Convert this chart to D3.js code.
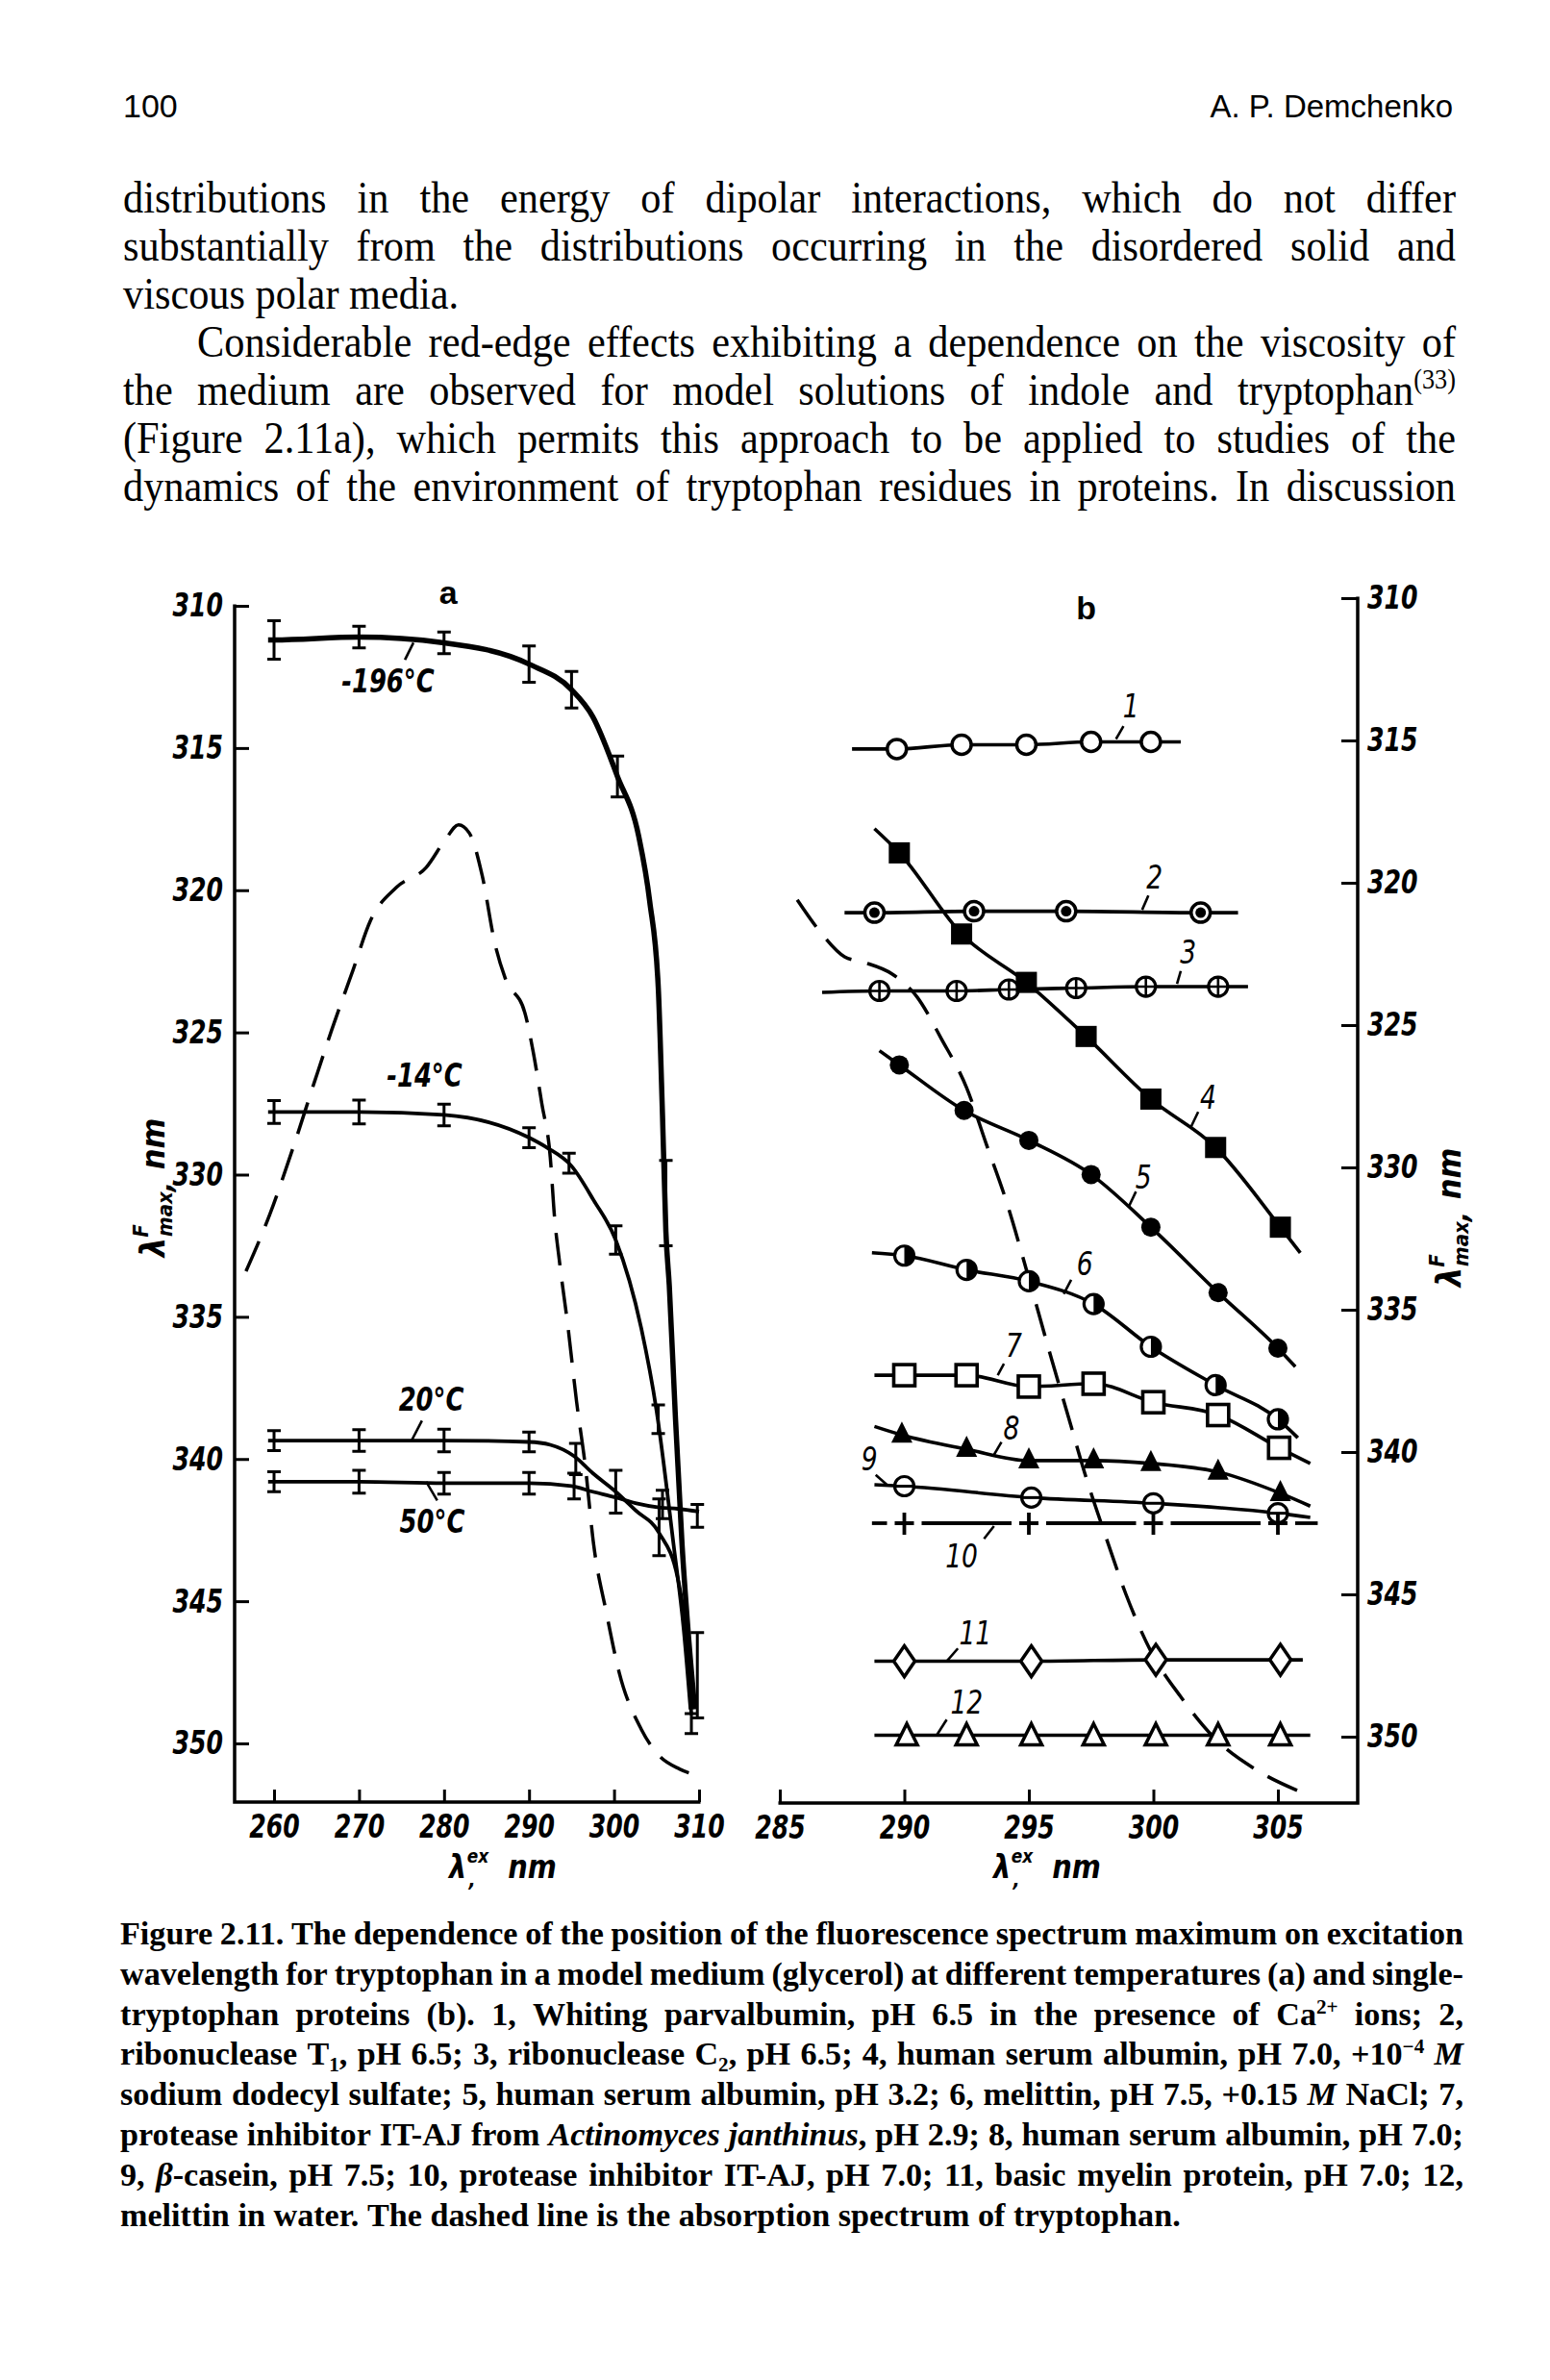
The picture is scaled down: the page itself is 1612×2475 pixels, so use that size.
<!DOCTYPE html>
<html><head><meta charset="utf-8">
<script src="https://cdn.jsdelivr.net/npm/d3@7"></script>
<style>html,body{margin:0;padding:0;background:#fff}svg{display:block}</style>
</head><body>
<svg id="page" width="1612" height="2475" xmlns="http://www.w3.org/2000/svg"></svg>
<script>
// ================= DATA =================
const headerPage = "100";
const headerAuthor = "A. P. Demchenko";
const bodyLines = [
 "distributions in the energy of dipolar interactions, which do not differ",
 "substantially from the distributions occurring in the disordered solid and",
 "viscous polar media.",
 "Considerable red-edge effects exhibiting a dependence on the viscosity of",
 "the medium are observed for model solutions of indole and tryptophan^{(33)}",
 "(Figure 2.11a), which permits this approach to be applied to studies of the",
 "dynamics of the environment of tryptophan residues in proteins. In discussion"
];
const captionLines = [
 "Figure 2.11. The dependence of the position of the fluorescence spectrum maximum on excitation",
 "wavelength for tryptophan in a model medium (glycerol) at different temperatures (a) and single-",
 "tryptophan proteins (b). 1, Whiting parvalbumin, pH 6.5 in the presence of Ca^{2+} ions; 2,",
 "ribonuclease T_{1}, pH 6.5; 3, ribonuclease C_{2}, pH 6.5; 4, human serum albumin, pH 7.0, +10^{−4} *M*",
 "sodium dodecyl sulfate; 5, human serum albumin, pH 3.2; 6, melittin, pH 7.5, +0.15 *M* NaCl; 7,",
 "protease inhibitor IT-AJ from *Actinomyces* *janthinus*, pH 2.9; 8, human serum albumin, pH 7.0;",
 "9, *β*-casein, pH 7.5; 10, protease inhibitor IT-AJ, pH 7.0; 11, basic myelin protein, pH 7.0; 12,",
 "melittin in water. The dashed line is the absorption spectrum of tryptophan."
];

// ---- panel a (tryptophan in glycerol) ----
const aTicksX = [260, 270, 280, 290, 300, 310];
const aTicksY = [310, 315, 320, 325, 330, 335, 340, 345, 350];
const aM196 = [[259.3,311.2],[260,311.2],[270,311.1],[280,311.3],[290,312.05],[295,312.95],[297.5,313.9],[300.4,316.0],[302.9,318.1],[304.2,320.4],[305.2,323.4],[305.7,327.9],[306.1,332.0],[306.5,333.9],[307.2,338.4],[308.0,343.0],[308.7,346.0],[309.5,348.8]];
const aM14 = [[259.3,327.8],[260,327.8],[270,327.8],[280,327.9],[290,328.7],[292.1,329.05],[295,329.7],[297.6,330.9],[300.2,332.3],[303.2,335.4],[305,338.3],[307,343.0],[308.2,346.0],[309.0,348.8]];
const aP20 = [[259.3,339.35],[260,339.35],[270,339.35],[280,339.35],[290,339.4],[292.5,339.5],[295.3,339.9],[297.5,340.5],[300.2,341.15],[302.5,341.8],[305.3,342.6],[307.5,344.2],[308.5,346.3],[309.1,349.0]];
const aP50 = [[259.3,340.8],[260,340.8],[270,340.8],[280,340.85],[290,340.85],[295,340.95],[297.5,341.15],[300.2,341.35],[302.5,341.55],[305.3,341.7],[307.5,341.75],[310,341.85]];
// error bars: [x, y, half-length]
const aErrM196 = [[260,311.2,0.68],[270,311.1,0.38],[280,311.3,0.38],[290,312.05,0.64],[295,312.95,0.64],[300.4,316.0,0.72],[306.1,331.0,1.5],[309.8,347.6,1.5]];
const aErrM14 = [[260,327.8,0.4],[270,327.8,0.42],[280,327.9,0.38],[290,328.7,0.35],[294.7,329.6,0.35],[300.2,332.3,0.5],[305.2,338.6,0.5]];
const aErrP20 = [[260,339.35,0.35],[270,339.35,0.38],[280,339.35,0.4],[290,339.4,0.35],[295.5,340.0,0.55],[300.2,341.15,0.75],[305.3,342.4,1.0],[309.1,349.3,0.35]];
const aErrP50 = [[260,340.8,0.35],[270,340.8,0.4],[280,340.85,0.38],[290,340.85,0.38],[295.3,340.95,0.45],[305.7,341.6,0.5],[309.8,342.0,0.4]];
const aAbsorption = [[256.7,333.4],[259.5,331.4],[262.3,329.0],[264.8,326.7],[266.8,324.9],[269.3,322.8],[271.3,321.1],[274.4,319.9],[277.9,319.2],[280.2,318.2],[281.7,317.7],[283.0,318.0],[284.5,319.5],[286.0,321.9],[287.2,323.1],[289.5,324.3],[290.5,325.7],[291.5,327.5],[292.5,329.4],[293.0,331.5],[293.6,333.1],[294.6,335.4],[295.6,338.0],[296.6,340.2],[297.6,343.0],[299.1,345.4],[300.6,347.5],[303.2,349.5],[305.2,350.4],[307.7,350.9],[309.5,351.1]];
const aLabels = [
 {t:"-196°C", x:273.4, y:313.05, lead:[[275.4,311.9],[276.4,311.3]]},
 {t:"-14°C",  x:277.7, y:326.9, lead:null},
 {t:"20°C",   x:278.5, y:338.3, lead:[[276.2,339.34],[277.4,338.65]]},
 {t:"50°C",   x:278.6, y:342.6, lead:[[277.9,340.8],[279.2,341.46]]}
];

// ---- panel b (single-tryptophan proteins) ----
const bTicksX = [285, 290, 295, 300, 305];
const bTicksY = [310, 315, 320, 325, 330, 335, 340, 345, 350];
const b1  = [[287.9,315.3],[289.7,315.3],[292.3,315.15],[294.9,315.15],[297.5,315.05],[299.9,315.05],[301.1,315.05]];
const b2  = [[287.6,321.05],[288.8,321.05],[292.8,321.0],[296.5,321.0],[301.9,321.05],[303.4,321.05]];
const b3  = [[286.7,323.85],[289.0,323.8],[292.1,323.8],[294.2,323.75],[296.9,323.7],[299.7,323.65],[302.6,323.65],[303.8,323.65]];
const b4  = [[288.8,318.1],[289.8,318.95],[292.3,321.8],[294.9,323.5],[297.3,325.4],[299.9,327.6],[302.5,329.3],[305.1,332.1],[305.9,333.0]];
const b5  = [[289.0,325.9],[289.8,326.4],[292.4,328.0],[295.0,329.05],[297.5,330.25],[299.9,332.1],[302.6,334.4],[305.0,336.35],[305.7,337.0]];
const b6  = [[288.7,333.0],[290.0,333.1],[292.5,333.6],[295.0,334.0],[297.6,334.8],[299.9,336.3],[302.5,337.65],[305.0,338.85],[305.8,339.5]];
const b7  = [[288.8,337.3],[290.0,337.3],[292.5,337.3],[295.0,337.7],[297.6,337.6],[300.0,338.25],[302.6,338.7],[305.05,339.85],[306.3,340.4]];
const b8  = [[288.8,339.1],[289.9,339.4],[292.5,339.9],[295.0,340.3],[297.6,340.3],[299.9,340.4],[302.6,340.7],[305.1,341.45],[306.3,341.9]];
const b9  = [[288.8,341.15],[290.0,341.2],[295.1,341.6],[300.0,341.8],[305.0,342.15],[306.3,342.3]];
const b10 = [[288.7,342.5],[290,342.5],[295,342.5],[300,342.5],[305,342.5],[306.6,342.5]];
const b11 = [[288.8,347.35],[290,347.35],[295.1,347.35],[300.1,347.3],[305.1,347.3],[306.0,347.3]];
const b12 = [[288.8,349.95],[290.1,349.95],[292.5,349.95],[295.1,349.95],[297.6,349.95],[300.1,349.95],[302.6,349.95],[305.1,349.95],[306.3,349.95]];
const bMarkers = ["open","dot","cross","sqfill","fill","half","sqopen","trifill","bar","plus","diamond","triopen"];
const bAbsorption = [[285.7,320.6],[286.6,321.7],[287.6,322.6],[288.4,322.8],[289.5,323.2],[290.5,324.0],[291.5,325.5],[292.5,327.2],[293.3,329.2],[294.1,331.2],[295.0,333.9],[295.9,336.7],[296.6,338.8],[297.3,340.9],[298.1,343.0],[298.9,345.0],[299.9,347.0],[301.1,348.6],[302.4,350.0],[304.2,351.2],[305.8,351.9]];
const bLabels = [
 {t:"1",  x:299.1,  y:314.2,  lead:[[298.5,314.95],[298.8,314.5]]},
 {t:"2",  x:300.05, y:320.2,  lead:[[299.55,320.95],[299.8,320.45]]},
 {t:"3",  x:301.4,  y:322.85, lead:[[300.95,323.55],[301.1,323.1]]},
 {t:"4",  x:302.2,  y:327.95, lead:[[301.5,328.6],[301.8,328.05]]},
 {t:"5",  x:299.6,  y:330.75, lead:[[299.0,331.4],[299.3,330.85]]},
 {t:"6",  x:297.25, y:333.8,  lead:[[296.4,334.45],[296.7,333.95]]},
 {t:"7",  x:294.4,  y:336.65, lead:[[293.75,337.3],[294.0,336.9]]},
 {t:"8",  x:294.3,  y:339.55, lead:[[293.6,340.1],[293.9,339.65]]},
 {t:"9",  x:288.6,  y:340.65, lead:[[288.85,340.8],[289.3,341.15]]},
 {t:"10", x:292.3,  y:344.05, lead:[[293.2,343.05],[293.6,342.6]]},
 {t:"11", x:292.85, y:346.75, lead:[[291.7,347.35],[292.15,346.9]]},
 {t:"12", x:292.5,  y:349.2,  lead:[[291.3,349.95],[291.7,349.4]]}
];

// ================= DRAWING =================
const svg = d3.select('#page');
const LBL = "'DejaVu Sans', 'Liberation Sans', sans-serif";
const SERIF = "'Liberation Serif', 'Times New Roman', serif";
const SANS = "'Liberation Sans', Arial, sans-serif";

// ---- header ----
svg.append('text').attr('x',128).attr('y',122).attr('font-family',SANS).attr('font-size',34).text(headerPage);
svg.append('text').attr('x',1511).attr('y',122).attr('text-anchor','end').attr('font-family',SANS).attr('font-size',33).text(headerAuthor);

// ---- justified text helpers ----
function parseSegs(word){
  const re = /\^\{([^}]*)\}|_\{([^}]*)\}|\*([^*]*)\*|([^*^_]+)/g;
  const out = []; let m;
  while ((m = re.exec(word))){
    if (m[1]!==undefined) out.push({t:m[1],k:'sup'});
    else if (m[2]!==undefined) out.push({t:m[2],k:'sub'});
    else if (m[3]!==undefined) out.push({t:m[3],k:'it'});
    else out.push({t:m[4],k:'n'});
  }
  return out;
}
function addWord(g, word, fs){
  const t = g.append('text').attr('x',0).attr('y',0);
  let cur = 0;
  for (const s of parseSegs(word)){
    const sp = t.append('tspan').text(s.t);
    let off = 0, size = fs;
    if (s.k==='sup'){ off = -0.36*fs; size = 0.62*fs; }
    else if (s.k==='sub'){ off = 0.2*fs; size = 0.62*fs; }
    else if (s.k==='it'){ sp.attr('font-style','italic'); }
    sp.attr('font-size', size);
    if (off !== cur) sp.attr('dy', off - cur);
    cur = off;
  }
  return t;
}
function textLine(str, x0, x1, y, fs, attrs, justify, baseCx){
  const g = svg.append('g');
  Object.entries(attrs).forEach(([k,v])=>g.attr(k,v));
  const words = str.split(' ');
  const nodes = words.map(w=>addWord(g,w,fs));
  const widths = nodes.map(n=>n.node().getComputedTextLength());
  const sum = d3.sum(widths);
  const n = Math.max(words.length-1,1);
  const W = x1 - x0;
  let cx = baseCx, gap = 0.25*fs;
  const minGap = 0.16*fs;
  if (justify){
    gap = (W/cx - sum)/n;
    if (gap < minGap){ cx = W/(sum + n*minGap); gap = minGap; }
  }
  g.attr('transform', `translate(${x0},${y}) scale(${cx},1)`);
  let x = 0;
  nodes.forEach((nd,i)=>{ nd.attr('x', x); x += widths[i] + gap; });
}
// body text
bodyLines.forEach((ln,i)=>{
  const x0 = (i===3) ? 205 : 128;
  const justify = (i!==2);
  textLine(ln, x0, 1514, 221 + 50*i, 46, {'font-family':SERIF}, justify, 0.92);
});
// caption
captionLines.forEach((ln,i)=>{
  const justify = (i!==captionLines.length-1);
  textLine(ln, 125, 1522, 2022 + 41.8*i, 33.5, {'font-family':SERIF,'font-weight':'bold'}, justify, 1.02);
});

// ---- scales ----
const xA = d3.scaleLinear().domain([260,310]).range([285,727]);
const yA = d3.scaleLinear().domain([310,350]).range([630,1813]);
const xB = d3.scaleLinear().domain([285,305]).range([811,1329]);
const yB = d3.scaleLinear().domain([310,350]).range([622,1806]);
const A_LEFT = 244, A_BOTTOM = 1874, B_RIGHT = 1412, B_BOTTOM = 1875;

function styleAxis(g, s){
  g.select('.domain').remove();
  g.selectAll('.tick line').attr('stroke','#000').attr('stroke-width',3);
  g.selectAll('.tick text')
    .attr('font-family',LBL).attr('font-size',34).attr('font-style','italic').attr('font-weight','bold').attr('fill','#000')
    .each(function(){ const t=d3.select(this); const x=+t.attr('x')||0; t.attr('x', x/s).attr('transform',`scale(${s},1)`); });
}
const fmt = d3.format('d');
// panel a axes
svg.append('g').attr('transform',`translate(${A_LEFT},0)`)
  .call(d3.axisLeft(yA).tickValues(aTicksY).tickFormat(fmt).tickSize(-15).tickPadding(12))
  .call(g=>styleAxis(g,0.74));
svg.append('g').attr('transform',`translate(0,${A_BOTTOM})`)
  .call(d3.axisBottom(xA).tickValues(aTicksX).tickFormat(fmt).tickSize(-13).tickPadding(13))
  .call(g=>styleAxis(g,0.74));
svg.append('path').attr('d',`M${A_LEFT},${yA(310)-1.5}V${A_BOTTOM}H${xA(310)+1.5}`)
  .attr('fill','none').attr('stroke','#000').attr('stroke-width',3.5);
// panel b axes
svg.append('g').attr('transform',`translate(${B_RIGHT},0)`)
  .call(d3.axisRight(yB).tickValues(bTicksY).tickFormat(fmt).tickSize(-17).tickPadding(10))
  .call(g=>styleAxis(g,0.74));
svg.append('g').attr('transform',`translate(0,${B_BOTTOM})`)
  .call(d3.axisBottom(xB).tickValues(bTicksX).tickFormat(fmt).tickSize(-14).tickPadding(13))
  .call(g=>styleAxis(g,0.74));
svg.append('path').attr('d',`M${xB(285)-1.5},${B_BOTTOM}H${B_RIGHT}V${yB(310)-1.5}`)
  .attr('fill','none').attr('stroke','#000').attr('stroke-width',3.5);

// ---- panel a marks ----
const lineA = d3.line().x(d=>xA(d[0])).y(d=>yA(d[1])).curve(d3.curveMonotoneX);
const gA = svg.append('g');
gA.append('path').attr('d',lineA(aAbsorption)).attr('fill','none').attr('stroke','#000')
  .attr('stroke-width',3.5).attr('stroke-dasharray','34,17');
[[aM14,3.8],[aP20,3.8],[aP50,3.8],[aM196,5.5]].forEach(([d,w])=>{
  gA.append('path').attr('d',lineA(d)).attr('fill','none').attr('stroke','#000').attr('stroke-width',w).attr('stroke-linejoin','round');
});
[aErrM196, aErrM14, aErrP20, aErrP50].forEach(arr=>{
  arr.forEach(([x,y,e])=>{
    const px = xA(x), y0 = yA(y-e), y1 = yA(y+e);
    gA.append('path').attr('d',`M${px},${y0}V${y1}M${px-7},${y0}H${px+7}M${px-7},${y1}H${px+7}`)
      .attr('fill','none').attr('stroke','#000').attr('stroke-width',3);
  });
});

// ---- panel b marks ----
const lineB = d3.line().x(d=>xB(d[0])).y(d=>yB(d[1])).curve(d3.curveMonotoneX);
const gB = svg.append('g');
gB.append('path').attr('d',lineB(bAbsorption)).attr('fill','none').attr('stroke','#000')
  .attr('stroke-width',3.5).attr('stroke-dasharray','34,17');
const bSeries = [b1,b2,b3,b4,b5,b6,b7,b8,b9,b10,b11,b12];
bSeries.forEach((s,i)=>{
  if (bMarkers[i]==='plus'){
    const P = s.map(d=>[xB(d[0]), yB(d[1])]);
    for (let k=0;k<P.length-1;k++){
      let [x0,y0] = P[k], [x1,y1] = P[k+1];
      const len = Math.hypot(x1-x0,y1-y0), ux=(x1-x0)/len, uy=(y1-y0)/len;
      const t0 = (k===0)?0:18, t1 = (k+1===P.length-1)?0:18;
      gB.append('line').attr('x1',x0+ux*t0).attr('y1',y0+uy*t0).attr('x2',x1-ux*t1).attr('y2',y1-uy*t1)
        .attr('stroke','#000').attr('stroke-width',3.8);
    }
  } else {
    gB.append('path').attr('d',lineB(s)).attr('fill','none').attr('stroke','#000').attr('stroke-width',3.6).attr('stroke-linejoin','round');
  }
});
function marker(g, type, cx, cy){
  const K='#000';
  switch(type){
    case 'open':
      g.append('circle').attr('cx',cx).attr('cy',cy).attr('r',10).attr('fill','#fff').attr('stroke',K).attr('stroke-width',3.5); break;
    case 'dot':
      g.append('circle').attr('cx',cx).attr('cy',cy).attr('r',10).attr('fill','#fff').attr('stroke',K).attr('stroke-width',3.5);
      g.append('circle').attr('cx',cx).attr('cy',cy).attr('r',5.5).attr('fill',K); break;
    case 'cross':
      g.append('circle').attr('cx',cx).attr('cy',cy).attr('r',10).attr('fill','#fff').attr('stroke',K).attr('stroke-width',3.2);
      g.append('path').attr('d',`M${cx-9},${cy}H${cx+9}M${cx},${cy-9}V${cy+9}`).attr('stroke',K).attr('stroke-width',2.6); break;
    case 'sqfill':
      g.append('rect').attr('x',cx-11).attr('y',cy-11).attr('width',22).attr('height',22).attr('fill',K); break;
    case 'fill':
      g.append('circle').attr('cx',cx).attr('cy',cy).attr('r',10).attr('fill',K); break;
    case 'half':
      g.append('circle').attr('cx',cx).attr('cy',cy).attr('r',10).attr('fill','#fff').attr('stroke',K).attr('stroke-width',3.2);
      g.append('path').attr('d',`M${cx},${cy-10}A10,10 0 0 1 ${cx},${cy+10}Z`).attr('fill',K); break;
    case 'sqopen':
      g.append('rect').attr('x',cx-11).attr('y',cy-11).attr('width',22).attr('height',22).attr('fill','#fff').attr('stroke',K).attr('stroke-width',3.6); break;
    case 'trifill':
      g.append('path').attr('d',`M${cx},${cy-14}L${cx+11},${cy+8}L${cx-11},${cy+8}Z`).attr('fill',K); break;
    case 'bar':
      g.append('circle').attr('cx',cx).attr('cy',cy).attr('r',10).attr('fill','#fff').attr('stroke',K).attr('stroke-width',3.2);
      g.append('path').attr('d',`M${cx-10},${cy}H${cx+10}`).attr('stroke',K).attr('stroke-width',3); break;
    case 'plus':
      g.append('path').attr('d',`M${cx-10},${cy}H${cx+10}M${cx},${cy-11}V${cy+12}`).attr('stroke',K).attr('stroke-width',3.8); break;
    case 'diamond':
      g.append('path').attr('d',`M${cx},${cy-16}L${cx+11},${cy}L${cx},${cy+16}L${cx-11},${cy}Z`).attr('fill','#fff').attr('stroke',K).attr('stroke-width',3.5); break;
    case 'triopen':
      g.append('path').attr('d',`M${cx},${cy-12}L${cx+11},${cy+10}L${cx-11},${cy+10}Z`).attr('fill','#fff').attr('stroke',K).attr('stroke-width',3.5); break;
  }
}
bSeries.forEach((s,i)=>{
  s.slice(1,-1).forEach(d=>marker(gB, bMarkers[i], xB(d[0]), yB(d[1])));
});

// ---- labels ----
function condText(x, y, str, opts){
  const g = svg.append('g').attr('transform',`translate(${x},${y}) scale(${opts.s},1)`);
  g.append('text').attr('text-anchor','middle').attr('font-family',opts.f||LBL)
    .attr('font-size',opts.fs).attr('font-style',opts.it?'italic':'normal').attr('font-weight',opts.w||'normal').text(str);
}
function lead(pts, xs, ys){
  svg.append('line').attr('x1',xs(pts[0][0])).attr('y1',ys(pts[0][1])).attr('x2',xs(pts[1][0])).attr('y2',ys(pts[1][1]))
    .attr('stroke','#000').attr('stroke-width',2.6);
}
aLabels.forEach(l=>{
  condText(xA(l.x), yA(l.y), l.t, {s:0.76, fs:34, it:true, w:'bold'});
  if (l.lead) lead(l.lead, xA, yA);
});
bLabels.forEach(l=>{
  condText(xB(l.x), yB(l.y), l.t, {s:0.78, fs:34, it:true, w:'normal'});
  if (l.lead) lead(l.lead, xB, yB);
});
condText(xA(280.5), yA(309.93), 'a', {s:1, fs:34, it:false, w:'bold', f:SANS});
condText(xB(297.3), yB(310.75), 'b', {s:1, fs:34, it:false, w:'bold', f:SANS});

// axis titles
function xTitle(x, y){
  const g = svg.append('g').attr('transform',`translate(${x},${y}) scale(0.85,1)`);
  const st = t => t.attr('font-family',LBL).attr('font-style','italic').attr('font-weight','bold');
  st(g.append('text').attr('font-size',34)).text('λ');
  st(g.append('text').attr('x',22).attr('y',-16).attr('font-size',20)).text('ex');
  st(g.append('text').attr('x',24).attr('y',9).attr('font-size',22)).text(',');
  st(g.append('text').attr('x',72).attr('font-size',34)).text('nm');
}
function yTitle(x, y){
  const g = svg.append('g').attr('transform',`translate(${x},${y}) rotate(-90) scale(0.9,1)`);
  const t = g.append('text').attr('text-anchor','middle').attr('font-family',LBL).attr('font-style','italic').attr('font-weight','bold').attr('font-size',36);
  t.append('tspan').text('λ');
  t.append('tspan').attr('font-size',22).attr('dy',-17).text('F');
  t.append('tspan').attr('font-size',22).attr('dx',-14).attr('dy',25).text('max');
  t.append('tspan').attr('font-size',30).text(',');
  t.append('tspan').attr('font-size',34).attr('dx',14).attr('dy',-8).text('nm');
}
xTitle(467, 1953);
xTitle(1033, 1953);
yTitle(171, 1235);
yTitle(1519, 1266);
</script>
</body></html>
